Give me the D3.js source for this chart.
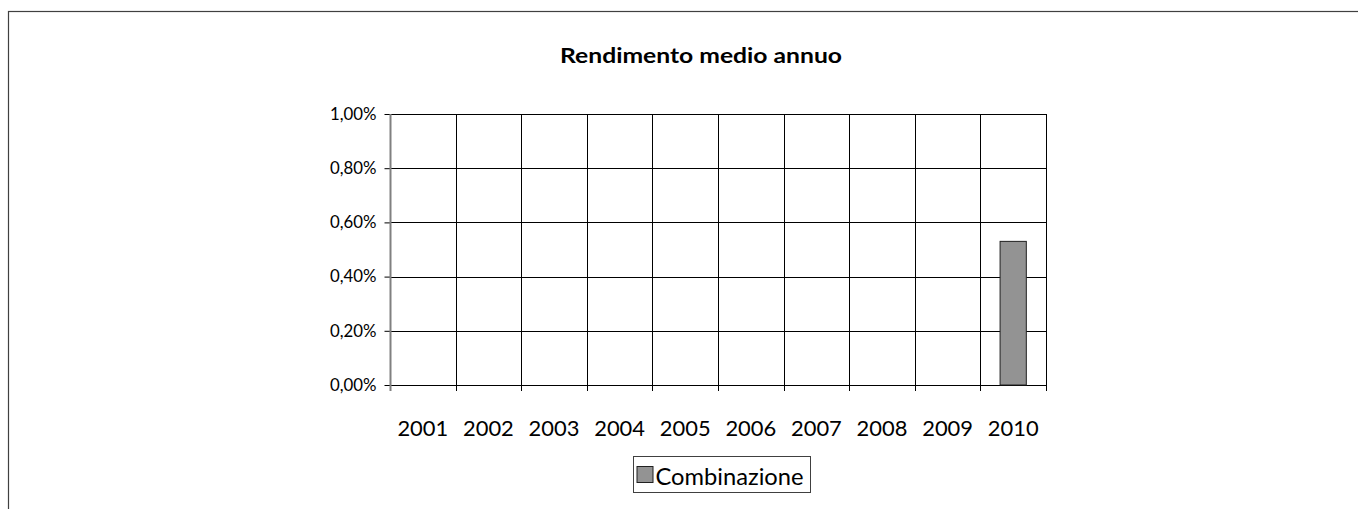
<!DOCTYPE html>
<html>
<head>
<meta charset="utf-8">
<script src="https://cdn.jsdelivr.net/npm/d3@7"></script>
<style>
  html, body { margin: 0; padding: 0; background: #fff; }
  svg { display: block; }
  text { font-family: Lato, "Open Sans", sans-serif; fill: #000; }
</style>
</head>
<body>
<script>
// Average annual return per year
const years = ["2001", "2002", "2003", "2004", "2005", "2006", "2007", "2008", "2009", "2010"];
const seriesName = "Combinazione";
const values = [null, null, null, null, null, null, null, null, null, 0.0053];
const yTicks = [0, 0.002, 0.004, 0.006, 0.008, 0.010];
const title = "Rendimento medio annuo";

const W = 1358, H = 509;
const plot = { left: 390, right: 1046, top: 114, bottom: 385 };

const svg = d3.select("body").append("svg").attr("width", W).attr("height", H);

// outer chart frame
svg.append("rect")
  .attr("x", 8.5).attr("y", 11.5)
  .attr("width", W + 10).attr("height", H + 10)
  .attr("fill", "none").attr("stroke", "#404040").attr("stroke-width", 1.2);

const x = d3.scaleBand().domain(years).range([plot.left, plot.right]).paddingInner(0).paddingOuter(0);
const y = d3.scaleLinear().domain([0, 0.01]).range([plot.bottom, plot.top]);

const fmt = v => d3.format(".2%")(v).replace(".", ",");

// horizontal gridlines
svg.append("g").selectAll("line").data(yTicks).join("line")
  .attr("x1", plot.left).attr("x2", plot.right)
  .attr("y1", d => Math.round(y(d)) + 0.5).attr("y2", d => Math.round(y(d)) + 0.5)
  .attr("stroke", "#000").attr("stroke-width", 1);

// vertical gridlines at category boundaries
const bounds = years.map(d => x(d)).concat([plot.right]);
svg.append("g").selectAll("line").data(bounds.slice(1)).join("line")
  .attr("x1", d => Math.round(d) + 0.5).attr("x2", d => Math.round(d) + 0.5)
  .attr("y1", plot.top).attr("y2", plot.bottom + 6)
  .attr("stroke", "#000").attr("stroke-width", 1);

// y axis
const yAxis = d3.axisLeft(y).tickValues(yTicks).tickFormat(fmt).tickSize(6).tickPadding(8);
const gy = svg.append("g").attr("transform", `translate(${plot.left + 0.5},0)`).call(yAxis);
gy.select(".domain").remove();
gy.selectAll(".tick line").attr("stroke", "#000");
gy.selectAll(".tick text").style("font-size", "16.8px").attr("fill", "#000");
svg.append("line")
  .attr("x1", plot.left + 0.5).attr("x2", plot.left + 0.5)
  .attr("y1", plot.top).attr("y2", plot.bottom + 6)
  .attr("stroke", "#808080").attr("stroke-width", 2);

// x axis labels
const xAxis = d3.axisBottom(x).tickSize(0).tickPadding(35);
const gx = svg.append("g").attr("transform", `translate(0,${plot.bottom})`).call(xAxis);
gx.select(".domain").remove();
gx.selectAll(".tick text").style("font-size", "21.9px").attr("fill", "#000");

// bars
const barW = x.bandwidth() * 0.4;
svg.append("g").selectAll("rect")
  .data(years.map((d, i) => ({ year: d, v: values[i] })).filter(d => d.v != null))
  .join("rect")
  .attr("x", d => x(d.year) + (x.bandwidth() - barW) / 2)
  .attr("y", d => y(d.v))
  .attr("width", barW)
  .attr("height", d => y(0) - y(d.v))
  .attr("fill", "#939393").attr("stroke", "#202020").attr("stroke-width", 1);

// title, widened slightly to the chart's title width
const t = svg.append("text")
  .attr("text-anchor", "middle")
  .style("font-size", "21px").style("font-weight", "bold")
  .text(title);
const tw = t.node().getComputedTextLength();
t.attr("transform", `translate(701,63) scale(${282 / tw},1)`);

// legend
const lg = svg.append("g").attr("transform", "translate(633.5,456.5)");
lg.append("rect").attr("width", 177).attr("height", 36)
  .attr("fill", "#fff").attr("stroke", "#404040").attr("stroke-width", 1);
lg.append("rect").attr("x", 3.5).attr("y", 10).attr("width", 16).attr("height", 16)
  .attr("fill", "#939393").attr("stroke", "#202020");
const lt = lg.append("text").attr("x", 22).attr("y", 28.5)
  .style("font-size", "23px").text(seriesName);
const lw = lt.node().getComputedTextLength();
lt.attr("textLength", 148).attr("lengthAdjust", "spacingAndGlyphs");
</script>
</body>
</html>
